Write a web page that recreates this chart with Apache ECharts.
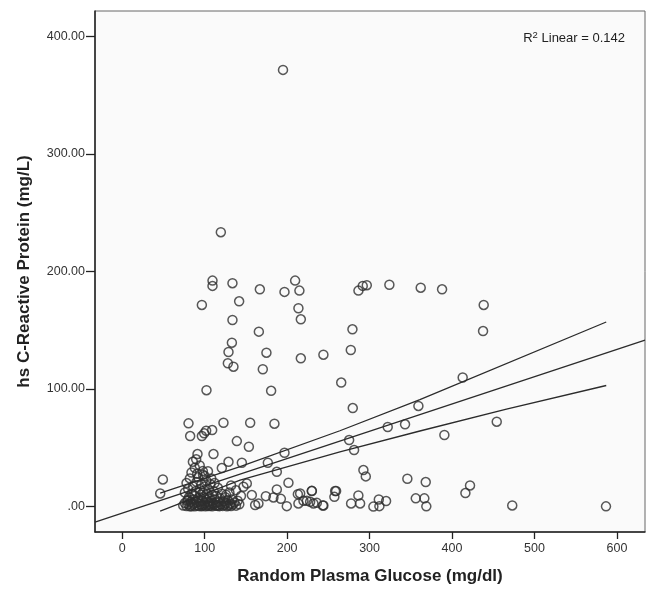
<!DOCTYPE html>
<html>
<head>
<meta charset="utf-8">
<script src="https://cdn.jsdelivr.net/npm/echarts@6/dist/echarts.min.js"></script>
<style>
  html, body { margin: 0; padding: 0; background: #fff; }
  #chart { width: 647px; height: 590px; }
</style>
</head>
<body>
<div id="chart"></div>
<script>
// values
const xTicks = [0, 100, 200, 300, 400, 500, 600];
const yTicks = [0, 100, 200, 300, 400];

const glucose = [
  195, 119.6,
  109.5, 109.5, 133.7, 166.9, 196.8, 209.7, 214.9, 286.5, 291.7, 296.6, 324, 362, 387.9,
  96.6, 141.8, 213.7, 216.6, 133.7, 165.7, 279.2, 438.4, 437.6,
  133, 128.9, 174.9, 216.6, 244, 277.2, 128.1, 134.9, 170.5,
  265.6, 412.9, 102.2, 180.6,
  279.6, 359.2, 322, 343, 275.2, 281.2, 454.2, 390.7,
  292.5, 295.4, 345.8, 368.1, 421.8, 416.2,
  229.9, 259.4, 257.3, 286.4, 277.6, 288.5, 304.6, 311.9, 311.2, 320, 356, 366.4, 368.8, 473, 586.7,
  215.8, 223.9, 231.9, 243.3,
  80.4, 82.4, 96.6, 99.4, 101.8, 109.1, 122.8, 155.2, 184.6,
  139, 153.6, 91.3, 85.7, 89.7, 110.7, 128.9, 145.1, 120.8, 176.6, 196.8, 187.5, 97.8, 49.3, 46.1, 201.6,
  147, 151.1, 187.5, 213, 230, 258.2, 174.2, 183.4, 192.4, 157.2, 161.2, 165.2, 199.6, 213.7, 219.8, 227.9, 236, 244,
  74, 76, 78, 79, 80, 81, 82, 83, 84, 85, 86, 86, 87, 88, 88, 89, 90, 90, 91, 92, 92, 93, 94, 94, 95, 95,
  96, 97, 97, 98, 98, 99, 99, 100, 100, 101, 102, 102, 103, 103, 104, 105, 105, 106, 106, 107, 107, 108,
  109, 109, 110, 111, 111, 112, 113, 114, 114, 115, 116, 117, 118, 119, 120, 121, 122, 123, 124, 125, 126,
  127, 128, 129, 130, 131, 132, 133, 134, 136, 138, 140, 142, 144,
  76, 78, 80, 82, 84, 88, 91, 94, 100, 104, 108, 112, 80, 84, 96, 116, 126, 138, 132
];
const crp = [
  371.4, 233.4,
  192.2, 187.7, 190, 184.8, 182.6, 192.2, 183.7, 183.7, 187.7, 188.3, 188.7, 186.2, 184.8,
  171.5, 174.6, 168.7, 159.3, 158.7, 148.8, 150.8, 171.5, 149.3,
  139.4, 131.5, 130.9, 126.1, 129.2, 133.2, 121.9, 119, 116.8,
  105.5, 109.8, 99, 98.5,
  83.8, 85.6, 67.7, 70, 56.6, 48.1, 72.2, 60.9,
  31.1, 25.7, 23.7, 20.9, 18, 11.5,
  13.2, 13.2, 8.3, 9.5, 2.7, 2.7, 0, 0.4, 6.1, 4.7, 7, 7, 0.2, 1, 0.2,
  11.2, 4.9, 2.7, 1,
  70.8, 60, 60, 62.3, 64.5, 65.1, 71.3, 71.3, 70.5,
  55.7, 50.9, 44.7, 38.1, 40.2, 44.7, 38.1, 37.3, 32.8, 37.3, 45.8, 29.6, 30.2, 23.1, 11.2, 20.3,
  16.9, 19.7, 14.6, 10.6, 13.4, 13.2, 8.9, 7.8, 6.6, 9.8, 1.3, 2.7, 0.4, 2.7, 4.9, 4.1, 3.2, 1,
  1, 3, 0.5, 5, 2, 8, 0.3, 4, 11, 1.5, 6, 17, 2.5, 0.2, 9, 13, 3.5, 21, 1, 7, 25, 0.5, 4, 15, 2, 10,
  19, 0.8, 5, 12, 27, 1.5, 8, 3, 17, 0.3, 6, 22, 1, 11, 4, 0.5, 14, 2.5, 8, 1, 19, 5,
  0.2, 10, 3, 1.5, 13, 6, 0.8, 3.5, 9, 1, 16, 4, 0.4, 7, 2, 11, 0.6, 4.5, 1.5, 8, 3,
  0.3, 5.5, 1, 12, 2.5, 0.5, 6, 1.8, 3.5, 0.8, 5, 2, 9,
  12, 20, 15, 24, 29, 33, 28, 35, 26, 30, 24, 20, 6, 0.2, 0.2, 0.6, 10, 14, 18
];

// fit line and 95% mean interval, read at a few x positions
const fitX = [-33, 634];
const fitY = [-13.2, 141.6];
const upperX = [46, 143, 264, 361, 587];
const upperY = [11.5, 34, 64.5, 91, 157];
const lowerX = [46, 143, 264, 361, 466, 587];
const lowerY = [-3.8, 22.5, 46.6, 64.3, 83, 103];

const zip = (a, b) => a.map((v, i) => [v, b[i]]);

const lineStyle = { color: '#2b2b2b', width: 1.3 };
const font = 'Liberation Sans, Arial, sans-serif';

const chart = echarts.init(document.getElementById('chart'));
chart.setOption({
  animation: false,
  backgroundColor: '#ffffff',
  grid: {
    left: 95, top: 11, width: 550, height: 522,
    show: true, backgroundColor: '#fafafa',
    borderColor: '#666', borderWidth: 1
  },
  xAxis: {
    type: 'value', min: -33, max: 634,
    splitLine: { show: false },
    axisLine: { show: true, onZero: false, lineStyle: { color: '#222', width: 1.5 } },
    axisTick: { show: true, length: 7, customValues: xTicks, lineStyle: { color: '#222', width: 1.3 } },
    axisLabel: { customValues: xTicks, margin: 10, color: '#333', fontSize: 12.5, fontFamily: font },
    name: 'Random Plasma Glucose (mg/dl)',
    nameLocation: 'middle', nameGap: 36,
    nameTextStyle: { fontSize: 17, fontWeight: 'bold', color: '#222', fontFamily: font }
  },
  yAxis: {
    type: 'value', min: -21.6, max: 421.5,
    splitLine: { show: false },
    axisLine: { show: true, onZero: false, lineStyle: { color: '#222', width: 1.5 } },
    axisTick: { show: true, length: 9, customValues: yTicks, lineStyle: { color: '#222', width: 1.3 } },
    axisLabel: {
      customValues: yTicks, margin: 10, color: '#333', fontSize: 12.5, fontFamily: font,
      formatter: (v) => v === 0 ? '.00' : v.toFixed(2)
    },
    name: 'hs C-Reactive Protein (mg/L)',
    nameLocation: 'middle', nameGap: 62,
    nameTextStyle: { fontSize: 17, fontWeight: 'bold', color: '#222', fontFamily: font }
  },
  graphic: [{
    type: 'text', right: 22, top: 30,
    style: {
      text: 'R{sup|2} Linear = 0.142',
      font: '13px ' + font, fill: '#222',
      rich: { sup: { fontSize: 9.5, verticalAlign: 'top', padding: [0, 0, 6, 0], fontFamily: font } }
    }
  }],
  series: [
    {
      type: 'scatter',
      data: zip(glucose, crp),
      symbol: 'circle', symbolSize: 9,
      itemStyle: { color: 'rgba(0,0,0,0)', borderColor: '#2e2e2e', borderWidth: 1.5 }
    },
    { type: 'line', data: zip(fitX, fitY), showSymbol: false, lineStyle },
    { type: 'line', data: zip(upperX, upperY), showSymbol: false, lineStyle },
    { type: 'line', data: zip(lowerX, lowerY), showSymbol: false, lineStyle }
  ]
});
</script>
</body>
</html>
